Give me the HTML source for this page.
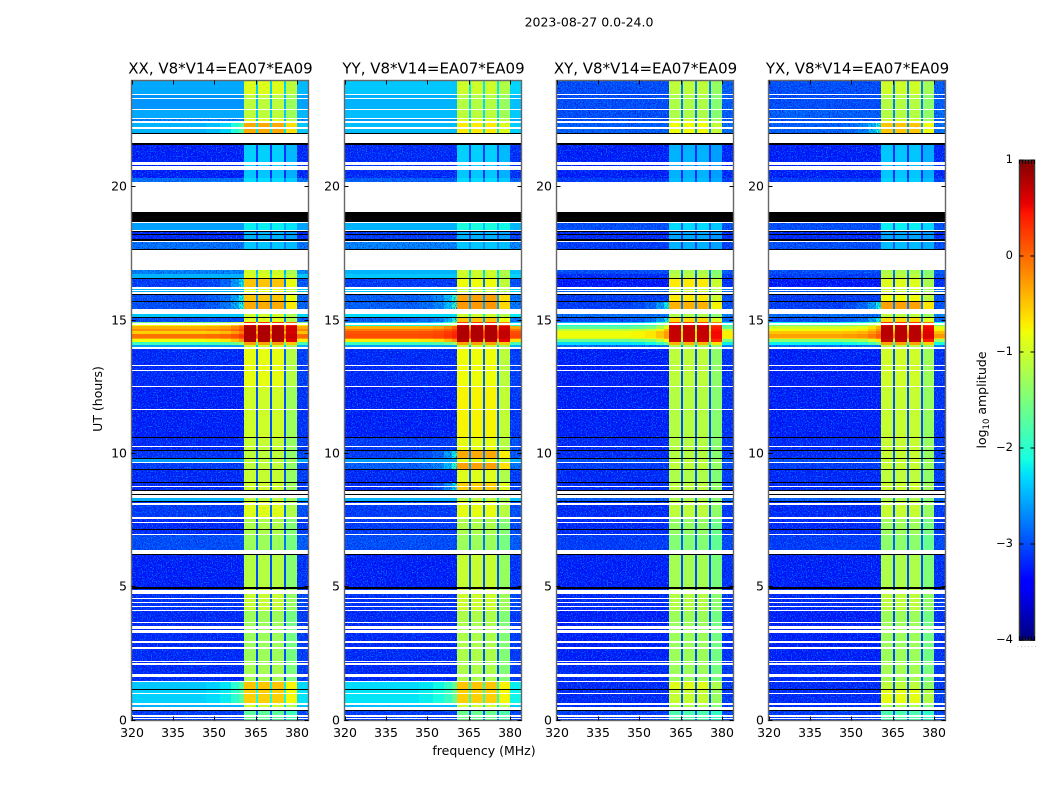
<!DOCTYPE html>
<html lang="en">
<head>
<meta charset="utf-8">
<title>2023-08-27 0.0-24.0</title>
<style>
html,body{margin:0;padding:0;background:#fff;}
svg{display:block;}
text{font-family:"DejaVu Sans","Liberation Sans",sans-serif;fill:#000;}
</style>
</head>
<body>
<svg id="figure" xmlns="http://www.w3.org/2000/svg" width="1050" height="800" viewBox="0 0 1050 800">
  <defs id="defs">
    <filter id="speckle-dark" x="0" y="0" width="100%" height="100%" color-interpolation-filters="sRGB">
      <feTurbulence type="fractalNoise" baseFrequency="0.85" numOctaves="1" seed="4"/>
      <feColorMatrix type="matrix" values="0 0 0 0 0  0 0 0 0 0.03  0 0 0 0 0.75  7 0 0 0 -3.7"/>
    </filter>
    <filter id="speckle-light" x="0" y="0" width="100%" height="100%" color-interpolation-filters="sRGB">
      <feTurbulence type="fractalNoise" baseFrequency="0.8" numOctaves="1" seed="11"/>
      <feColorMatrix type="matrix" values="0 0 0 0 0  0 0 0 0 0.62  0 0 0 0 1  0 7 0 0 -3.8"/>
    </filter>
  </defs>
  <rect x="0" y="0" width="1050" height="800" fill="#fff"/>
  <text x="589" y="26.5" font-size="12.5" text-anchor="middle">2023-08-27 0.0-24.0</text>
  <text x="484" y="755" font-size="12.5" text-anchor="middle">frequency (MHz)</text>
  <text x="0" y="0" font-size="12.5" text-anchor="middle" transform="translate(102,399) rotate(-90)">UT (hours)</text>
  <text x="0" y="0" font-size="12.5" text-anchor="middle" transform="translate(986,400) rotate(-90)">log<tspan font-size="8.5" dy="3">10</tspan><tspan dy="-3"> amplitude</tspan></text>
  <text x="1017" y="647" font-size="6" letter-spacing="1.6" fill="#888" style="fill:#888">......</text>
  <g id="panels"></g>
  <g id="colorbar"></g>
</svg>
<script>
// ---- Panels ----
const panelTitles = ["XX, V8*V14=EA07*EA09", "YY, V8*V14=EA07*EA09", "XY, V8*V14=EA07*EA09", "YX, V8*V14=EA07*EA09"];
const freqTicks = [320, 335, 350, 365, 380];
const hourTicks = [0, 5, 10, 15, 20];
const colorbarTicks = [1, 0, -1, -2, -3, -4];
const colorbarEdgeTicks = [0, 0.2, 0.4, 0.6, 0.8, 1];

// ---- Frequency channels (MHz), in-band fraction of each, and whether it is a shoulder ----
const channelEdges = [320, 347, 352, 356, 359, 360.6, 365, 365.7, 370, 370.7, 375, 375.7, 380, 384];
const channelGain = [0, 0.03, 0.08, 0.2, 0.35, 1, 0.12, 1, 0.12, 1, 0.12, 0.87, 0.05];
const channelShoulder = [0, 1, 1, 1, 1, 0, 0, 0, 0, 0, 0, 0, 0];

// ---- Time bands: top edge of each band in hours (each ends where the next starts) ----
const bandTop = [24, 23.48, 22.95, 22.58, 22.39, 22.05, 21.6, 20.63, 20.36, 20.18,
  18.71, 18.34, 18, 17.66, 16.88, 16.73, 16.54, 16.2, 15.94, 15.71,
  15.38, 15.26, 15.11, 14.93, 14.85, 14.78, 14.7, 14.59, 14.48, 14.36,
  14.29, 14.21, 14.1, 13.95, 12.56, 10.61, 10.09, 9.83, 9.68, 9.41,
  8.93, 8.63, 8.25, 7.65, 6.98, 6.3, 4.99, 4.13, 2.25, 1.43,
  1.16, 0.6, 0.34];

// ---- log10 amplitude, off-band background per time band ----
const baseXX = [-2.55, -2.65, -2.55, -2.7, -2.5, -3, -3.25, -3.25, -2.8, -3,
  -2.6, -3.2, -2.8, -3, -2.7, -2.5, -3.1, -2.5, -3, -3,
  -3, -2.4, -3, -1.5, -0.8, -0.4, -0.2, -0.55, -0.05, -0.3,
  -0.8, -1.9, -2.6, -3.2, -3.25, -3.2, -3.15, -2.6, -3.1, -3.2,
  -3.2, -2.5, -3.1, -3.2, -3, -3.25, -3.15, -3.2, -3.2, -2.4,
  -2.35, -2.5, -3.1];
const baseYY = [-2.4, -2.5, -2.45, -2.6, -2.45, -3, -3.2, -3.2, -2.9, -3,
  -2.5, -3.1, -2.7, -3, -2.5, -2.4, -3.1, -2.4, -2.9, -2.9,
  -3, -2.3, -2.9, -2.5, -2.1, -0.4, -0.1, 0.1, 0.15, -0.1,
  -0.7, -1.9, -2.6, -3.2, -3.25, -3.1, -3.1, -2.6, -2.9, -3.2,
  -3.2, -2.5, -3.1, -3.1, -3, -3.25, -3.15, -3.2, -3.2, -2.3,
  -2.25, -2.45, -3.1];
const baseXY = [-3, -3, -3, -3, -2.9, -3, -3.25, -3.25, -3.1, -3,
  -3, -3.2, -3.1, -3, -3, -3.2, -3.3, -2.9, -3.1, -3.1,
  -3, -2.8, -3, -2.5, -2.1, -1.7, -1.1, -0.8, -0.8, -1,
  -1.6, -2.3, -2.8, -3.25, -3.25, -3.2, -3.2, -3, -3.1, -3.2,
  -3.2, -2.9, -3.2, -3.2, -3.1, -3.25, -3.2, -3.25, -3.2, -3.2,
  -3.2, -3.2, -3.1];
const baseYX = [-3, -3, -2.9, -3, -2.9, -3, -3.25, -3.25, -3.1, -3,
  -3, -3.2, -3, -3, -3, -3.1, -3.3, -2.9, -3.1, -3.1,
  -3, -2.8, -3, -2.2, -1.6, -1, -0.8, -0.5, -0.3, -0.6,
  -1.4, -2.2, -2.8, -3.25, -3.25, -3.2, -3.2, -3, -3.1, -3.2,
  -3.2, -2.9, -3.2, -3.2, -3.1, -3.25, -3.2, -3.25, -3.2, -3.2,
  -3.2, -3.2, -3.1];

// ---- log10 amplitude, in-band level per time band ----
const peakXX = [-0.9, -1.1, -1.1, -0.9, -0.35, -2, -2.35, -2.4, -2.3, -2,
  -2.2, -2.5, -2.4, -2, -1, -0.9, -0.5, -0.8, -0.5, -0.35,
  -1, -1, -0.9, 0.3, 0.6, 0.8, 0.8, 0.8, 0.8, 0.8,
  0.8, -0.3, -1, -0.85, -1, -1.05, -1.1, -1.1, -1.1, -1.05,
  -1, -1.1, -0.9, -1.2, -1.3, -1.15, -1.05, -1.3, -1.25, -0.5,
  -0.55, -1, -1.7];
const peakYY = [-1, -1.15, -1.1, -0.9, -0.7, -2, -2.35, -2.4, -2.3, -2,
  -2.1, -2.5, -2.4, -2, -1, -1, -0.8, -1, -0.3, -0.25,
  -1, -1, -0.5, 0.25, 0.6, 0.8, 0.8, 0.8, 0.8, 0.8,
  0.75, -0.3, -1, -0.8, -0.75, -0.85, -0.35, -0.9, -0.3, -0.9,
  -0.55, -1.1, -0.85, -1.2, -1.3, -1.05, -1, -1.2, -1.2, -0.5,
  -0.55, -1, -1.6];
const peakXY = [-1.1, -1.2, -1.2, -1, -0.8, -2, -2.5, -2.5, -2.45, -2,
  -2.3, -2.55, -2.5, -2, -1.2, -1.1, -0.7, -1, -0.7, -0.4,
  -1, -1.2, -0.6, 0.25, 0.55, 0.7, 0.7, 0.7, 0.7, 0.7,
  0.65, -0.4, -1.2, -1.1, -1.15, -1.15, -1.15, -1.1, -1.1, -1.2,
  -1.1, -1.2, -1.1, -1.35, -1.45, -1.25, -1.15, -1.3, -1.3, -0.9,
  -1.05, -1.2, -1.8];
const peakYX = [-1, -1.15, -1.15, -1, -0.5, -2, -2.4, -2.4, -2.35, -2,
  -2.2, -2.55, -2.45, -2, -1.2, -1.1, -0.9, -1, -0.8, -0.3,
  -1, -1.1, -0.6, 0.3, 0.6, 0.75, 0.75, 0.75, 0.75, 0.75,
  0.7, -0.3, -1.1, -1, -1.05, -1.05, -1.05, -1.05, -1.05, -1.1,
  -1, -1.2, -1.05, -1.3, -1.4, -1.2, -1.1, -1.3, -1.25, -1.1,
  -0.85, -1.2, -1.8];

// ---- Flagged (no data) time ranges in hours ----
const blankTop = [23.51, 23.33, 22.95, 22.58, 22.5, 22.43, 22.24, 22.01, 20.93, 20.81,
  20.21, 18.71, 18.38, 18, 17.66, 16.61, 16.24, 16.16, 16.05, 15.45,
  15.38, 14.89, 13.99, 13.35, 13.16, 12.56, 11.7, 10.31, 9.68, 8.81,
  8.59, 8.48, 8.14, 7.65, 7.43, 7.01, 6.38, 4.91, 4.58, 4.46,
  4.31, 4.16, 3.68, 3.56, 3.38, 3, 2.93, 2.74, 2.25, 2.14,
  1.76, 1.69, 1.5, 1.05, 0.64, 0.49, 0.19, 0.11];
const blankBottom = [23.47, 23.29, 22.91, 22.54, 22.46, 22.39, 22.2, 21.64, 20.85, 20.63,
  19.05, 18.67, 18.34, 17.96, 16.88, 16.57, 16.2, 16.12, 16.01, 15.41,
  15.26, 14.85, 13.95, 13.31, 13.12, 12.52, 11.66, 10.27, 9.64, 8.77,
  8.51, 8.33, 8.1, 7.54, 7.39, 6.97, 6.26, 4.76, 4.54, 4.42,
  4.27, 4.12, 3.64, 3.45, 3.3, 2.96, 2.89, 2.7, 2.21, 2.1,
  1.72, 1.65, 1.43, 1.01, 0.6, 0.41, 0.15, 0.07];
const zeroTop = [22.05, 21.64, 19.05, 18.34, 18.23, 18.04, 17.7, 16.58, 15.98, 15.75,
  15.15, 10.65, 10.16, 9.86, 9.45, 8.96, 8.63, 8.51, 8.25, 7.2,
  6.23, 4.99, 1.2, 0.38];
const zeroBottom = [22.01, 21.6, 18.71, 18.3, 18.19, 18, 17.66, 16.54, 15.94, 15.71,
  15.11, 10.58, 10.09, 9.82, 9.41, 8.92, 8.59, 8.48, 8.21, 7.16,
  6.19, 4.95, 1.16, 0.34];

const panelBase = [baseXX, baseYY, baseXY, baseYX];
const panelPeak = [peakXX, peakYY, peakXY, peakYX];

// ---- Layout (pixels) ----
const panelLeft = [131.5, 344.5, 556.5, 768.5];
const plotW = 177, plotTop = 80.5, plotBottom = 720.5;
const FMIN = 320, FMAX = 384, HMIN = 0, HMAX = 24;
const cbLeft = 1019.5, cbRight = 1034.5, cbTop = 160, cbBottom = 640, VMIN = -4, VMAX = 1;
const shoulderMinPeak = -0.6;
const grainMaxBase = -2.7;

const NS = 'http://www.w3.org/2000/svg';
function xScale(left, f) { return Math.round(left + (f - FMIN) / (FMAX - FMIN) * plotW); }
function yScale(h) { return Math.round(plotBottom - (h - HMIN) / (HMAX - HMIN) * (plotBottom - plotTop)); }
function cbScale(v) { return cbBottom - (v - VMIN) / (VMAX - VMIN) * (cbBottom - cbTop); }

function ramp(x, pts) {
  for (let i = 1; i < pts.length; i++) {
    if (x <= pts[i][0]) {
      const a = pts[i - 1], b = pts[i];
      return a[1] + (b[1] - a[1]) * (x - a[0]) / (b[0] - a[0]);
    }
  }
  return pts[pts.length - 1][1];
}
function jet(v) {
  const t = Math.max(0, Math.min(1, (v - VMIN) / (VMAX - VMIN)));
  const r = ramp(t, [[0, 0], [0.35, 0], [0.66, 1], [0.89, 1], [1, 0.5]]);
  const g = ramp(t, [[0, 0], [0.125, 0], [0.375, 1], [0.64, 1], [0.91, 0], [1, 0]]);
  const b = ramp(t, [[0, 0.5], [0.11, 1], [0.34, 1], [0.65, 0], [1, 0]]);
  return 'rgb(' + Math.round(r * 255) + ',' + Math.round(g * 255) + ',' + Math.round(b * 255) + ')';
}
function make(tag, attrs, parent) {
  const el = document.createElementNS(NS, tag);
  for (const k in attrs) el.setAttribute(k, attrs[k]);
  parent.appendChild(el);
  return el;
}

const panelsGroup = document.getElementById('panels');
const defs = document.getElementById('defs');
panelTitles.forEach(function (title, p) {
  const left = panelLeft[p];
  const right = left + plotW;
  const g = make('g', {}, panelsGroup);
  
  

  const heat = make('g', { 'shape-rendering': 'crispEdges' }, g);
  
  
  const clip = make('clipPath', { id: 'grain-clip-' + p }, defs);
  bandTop.forEach(function (top, b) {
    const bottom = b + 1 < bandTop.length ? bandTop[b + 1] : HMIN;
    const y0 = yScale(top), y1 = yScale(bottom);
    const baseV = panelBase[p][b], peakV = panelPeak[p][b];
    channelGain.forEach(function (gain, c) {
      const x0 = xScale(left, channelEdges[c]), x1 = xScale(left, channelEdges[c + 1]);
      const effective = channelShoulder[c] && peakV < shoulderMinPeak ? 0 : gain;
      const value = baseV + (peakV - baseV) * effective;
      const cell = make('rect', { x: x0, y: y0, width: x1 - x0, height: y1 - y0, fill: jet(value) }, heat);
      
      
    });
    if (baseV <= grainMaxBase) {
      make('rect', { x: xScale(left, FMIN), y: y0, width: xScale(left, channelEdges[5]) - xScale(left, FMIN), height: y1 - y0 }, clip);
      make('rect', { x: xScale(left, channelEdges[12]), y: y0, width: xScale(left, FMAX) - xScale(left, channelEdges[12]), height: y1 - y0 }, clip);
    }
  });

  // fine grain texture over the quiet off-band time bands only
  const grainGroup = make('g', { 'clip-path': 'url(#grain-clip-' + p + ')' }, g);
  
  
  ['speckle-dark', 'speckle-light'].forEach(function (fid) {
    make('rect', { x: left, y: plotTop, width: plotW, height: plotBottom - plotTop, filter: 'url(#' + fid + ')', opacity: 0.7 }, grainGroup);
  });

  const flags = make('g', { 'shape-rendering': 'crispEdges' }, g);
  
  
  blankTop.forEach(function (top, i) {
    const y0 = yScale(top);
    const r = make('rect', { x: left, y: y0, width: plotW, height: Math.max(1, yScale(blankBottom[i]) - y0), fill: '#fff' }, flags);
    
    
  });
  zeroTop.forEach(function (top, i) {
    const y0 = yScale(top);
    const r = make('rect', { x: left, y: y0, width: plotW, height: Math.max(1, yScale(zeroBottom[i]) - y0), fill: '#000' }, flags);
    
    
  });

  const frame = make('rect', { x: left, y: plotTop, width: plotW, height: plotBottom - plotTop, fill: 'none', stroke: '#666', 'stroke-width': 1.4 }, g);
  
  

  freqTicks.forEach(function (f) {
    const x = xScale(left, f);
    const t1 = make('line', { x1: x + 0.5, x2: x + 0.5, y1: plotBottom, y2: plotBottom - 4, stroke: '#000', 'stroke-width': 1 }, g);
    
    
    const t2 = make('line', { x1: x + 0.5, x2: x + 0.5, y1: plotTop, y2: plotTop + 4, stroke: '#000', 'stroke-width': 1 }, g);
    
    
    const lab = make('text', { x: x, y: 737, 'font-size': 12.5, 'text-anchor': 'middle' }, g);
    lab.textContent = String(f);
    
    
  });
  hourTicks.forEach(function (h) {
    const y = yScale(h);
    const t1 = make('line', { x1: left, x2: left + 4, y1: y - 0.5, y2: y - 0.5, stroke: '#000', 'stroke-width': 1 }, g);
    
    
    const t2 = make('line', { x1: right, x2: right - 4, y1: y - 0.5, y2: y - 0.5, stroke: '#000', 'stroke-width': 1 }, g);
    
    
    const lab = make('text', { x: left - 4.5, y: y + 3.6, 'font-size': 12.5, 'text-anchor': 'end' }, g);
    lab.textContent = String(h);
    
    
  });

  const head = make('text', { x: left + plotW / 2 + 0.5, y: 73.5, 'font-size': 15, 'text-anchor': 'middle' }, g);
  head.textContent = title;
  
  
});

// ---- Colorbar ----
const cb = document.getElementById('colorbar');
const cbSteps = 240;
for (let i = 0; i < cbSteps; i++) {
  const v = VMIN + (i + 0.5) / cbSteps * (VMAX - VMIN);
  const yTop = Math.round(cbScale(VMIN + (i + 1) / cbSteps * (VMAX - VMIN)));
  const yBot = Math.round(cbScale(VMIN + i / cbSteps * (VMAX - VMIN)));
  const s = make('rect', { x: cbLeft, y: yTop, width: cbRight - cbLeft, height: yBot - yTop, fill: jet(v), 'shape-rendering': 'crispEdges' }, cb);
  
  
}
const cbFrame = make('rect', { x: cbLeft, y: cbTop + 0.25, width: cbRight - cbLeft, height: cbBottom - cbTop, fill: 'none', stroke: '#333', 'stroke-width': 1.5 }, cb);


colorbarTicks.forEach(function (v) {
  const y = cbScale(v);
  const left = make('line', { x1: cbLeft, x2: cbLeft + 4, y1: y, y2: y, stroke: '#000', 'stroke-width': 1 }, cb);
  
  
  const right = make('line', { x1: cbRight, x2: cbRight - 4, y1: y, y2: y, stroke: '#000', 'stroke-width': 1 }, cb);
  
  
  const lab = make('text', { x: 1013, y: y + 3, 'font-size': 11.5, 'text-anchor': 'end' }, cb);
  lab.textContent = v < 0 ? '\u2212' + Math.abs(v) : String(v);
  
  
});
colorbarEdgeTicks.forEach(function (u) {
  const x = cbLeft + u * (cbRight - cbLeft);
  const top = make('line', { x1: x, x2: x, y1: cbTop, y2: cbTop + 4, stroke: '#000', 'stroke-width': 1 }, cb);
  
  
  const bottom = make('line', { x1: x, x2: x, y1: cbBottom, y2: cbBottom - 4, stroke: '#000', 'stroke-width': 1 }, cb);
  
  
});
</script>
</body>
</html>
